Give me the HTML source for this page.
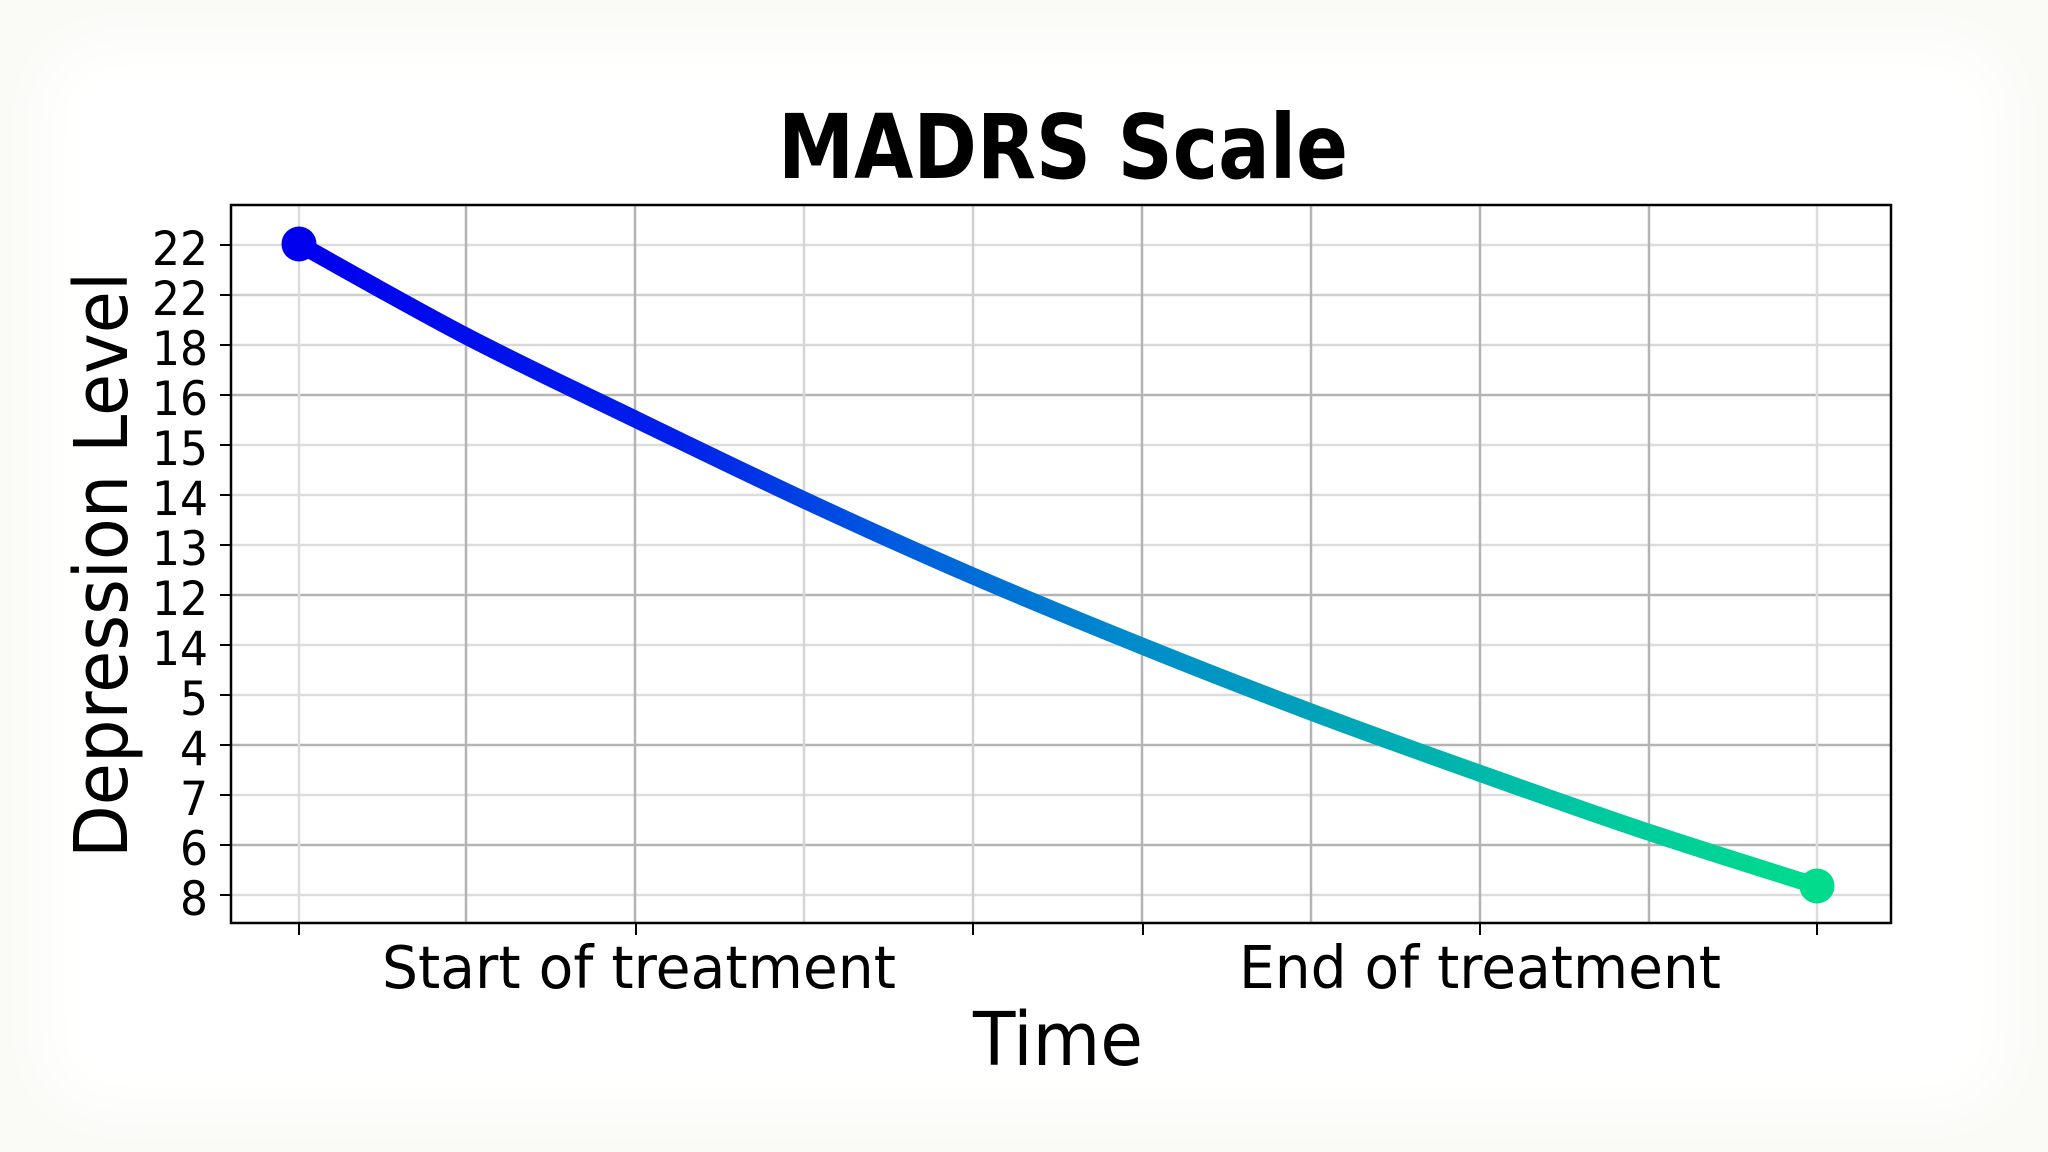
<!DOCTYPE html>
<html>
<head>
<meta charset="utf-8">
<style>
html,body{margin:0;padding:0;}
body{width:2048px;height:1152px;overflow:hidden;background:#fafbf6;position:relative;}
.inner{position:absolute;left:40px;top:40px;width:1968px;height:1072px;background:#ffffff;filter:blur(30px);border-radius:60px;}
svg{position:absolute;left:0;top:0;}
text{font-family:"DejaVu Sans","Liberation Sans",sans-serif;fill:#000;}
</style>
</head>
<body>
<div class="inner"></div>
<svg width="2048" height="1152" viewBox="0 0 2048 1152" xmlns="http://www.w3.org/2000/svg">
  <defs>
    <linearGradient id="g" gradientUnits="userSpaceOnUse" x1="299" y1="0" x2="1817" y2="0">
      <stop offset="0" stop-color="#0000ee"/>
      <stop offset="0.25" stop-color="#0020ea"/>
      <stop offset="0.4" stop-color="#005ede"/>
      <stop offset="0.55" stop-color="#008ccb"/>
      <stop offset="0.7" stop-color="#00a8b6"/>
      <stop offset="0.85" stop-color="#00c8a0"/>
      <stop offset="1" stop-color="#00dc8c"/>
    </linearGradient>
  </defs>

  <rect x="231" y="205" width="1660" height="718" fill="#ffffff"/>

  <!-- horizontal grid -->
  <g stroke-width="2.5">
    <line x1="231" x2="1891" y1="245" y2="245" stroke="#dcdcdc"/>
    <line x1="231" x2="1891" y1="295" y2="295" stroke="#cfcfcf"/>
    <line x1="231" x2="1891" y1="345" y2="345" stroke="#d8d8d8"/>
    <line x1="231" x2="1891" y1="395" y2="395" stroke="#b4b4b4"/>
    <line x1="231" x2="1891" y1="445" y2="445" stroke="#dcdcdc"/>
    <line x1="231" x2="1891" y1="495" y2="495" stroke="#dcdcdc"/>
    <line x1="231" x2="1891" y1="545" y2="545" stroke="#dcdcdc"/>
    <line x1="231" x2="1891" y1="595" y2="595" stroke="#b4b4b4"/>
    <line x1="231" x2="1891" y1="645" y2="645" stroke="#dcdcdc"/>
    <line x1="231" x2="1891" y1="695" y2="695" stroke="#dcdcdc"/>
    <line x1="231" x2="1891" y1="745" y2="745" stroke="#b4b4b4"/>
    <line x1="231" x2="1891" y1="795" y2="795" stroke="#dcdcdc"/>
    <line x1="231" x2="1891" y1="845" y2="845" stroke="#b4b4b4"/>
    <line x1="231" x2="1891" y1="895" y2="895" stroke="#dcdcdc"/>
  </g>
  <!-- vertical grid -->
  <g stroke-width="2.5">
    <line y1="205" y2="923" x1="299" x2="299" stroke="#dcdcdc"/>
    <line y1="205" y2="923" x1="466" x2="466" stroke="#b4b4b4"/>
    <line y1="205" y2="923" x1="635" x2="635" stroke="#b4b4b4"/>
    <line y1="205" y2="923" x1="804" x2="804" stroke="#d6d6d6"/>
    <line y1="205" y2="923" x1="973" x2="973" stroke="#d0d0d0"/>
    <line y1="205" y2="923" x1="1142" x2="1142" stroke="#b4b4b4"/>
    <line y1="205" y2="923" x1="1311" x2="1311" stroke="#b4b4b4"/>
    <line y1="205" y2="923" x1="1480" x2="1480" stroke="#b4b4b4"/>
    <line y1="205" y2="923" x1="1649" x2="1649" stroke="#b4b4b4"/>
    <line y1="205" y2="923" x1="1817" x2="1817" stroke="#dcdcdc"/>
  </g>

  <!-- series (smoothed) -->
  <path fill="none" stroke="url(#g)" stroke-width="17" stroke-linejoin="round" stroke-linecap="round"
    d="M299,244 C326.8,259.3 410,306.8 466,336
       C522,365.2 578.7,391.7 635,419
       C691.3,446.3 747.7,473.8 804,500
       C860.3,526.2 916.7,551.7 973,576
       C1029.3,600.3 1085.7,623.3 1142,646
       C1198.3,668.7 1254.8,690.8 1311,712
       C1367.2,733.2 1422.8,753 1479,773
       C1535.2,793 1591.7,813.2 1648,832
       C1704.3,850.8 1788.8,877 1817,886"/>
  <circle cx="299" cy="244" r="17.5" fill="#0000ee"/>
  <circle cx="1817" cy="886" r="17.5" fill="#00dc8c"/>

  <rect x="231" y="205" width="1660" height="718" fill="none" stroke="#000" stroke-width="2.5"/>

  <!-- y ticks -->
  <g stroke="#000" stroke-width="2">
    <line x1="220" x2="231" y1="245" y2="245"/>
    <line x1="220" x2="231" y1="295" y2="295"/>
    <line x1="220" x2="231" y1="345" y2="345"/>
    <line x1="220" x2="231" y1="395" y2="395"/>
    <line x1="220" x2="231" y1="445" y2="445"/>
    <line x1="220" x2="231" y1="495" y2="495"/>
    <line x1="220" x2="231" y1="545" y2="545"/>
    <line x1="220" x2="231" y1="595" y2="595"/>
    <line x1="220" x2="231" y1="645" y2="645"/>
    <line x1="220" x2="231" y1="695" y2="695"/>
    <line x1="220" x2="231" y1="745" y2="745"/>
    <line x1="220" x2="231" y1="795" y2="795"/>
    <line x1="220" x2="231" y1="845" y2="845"/>
    <line x1="220" x2="231" y1="895" y2="895"/>
  </g>
  <!-- x ticks -->
  <g stroke="#000" stroke-width="2">
    <line x1="299" x2="299" y1="923" y2="935"/>
    <line x1="636" x2="636" y1="923" y2="935"/>
    <line x1="973" x2="973" y1="923" y2="935"/>
    <line x1="1143" x2="1143" y1="923" y2="935"/>
    <line x1="1480" x2="1480" y1="923" y2="935"/>
    <line x1="1817" x2="1817" y1="923" y2="935"/>
  </g>

  <!-- y tick labels -->
  <g font-size="47" text-anchor="end">
    <text x="208" y="265" textLength="56" lengthAdjust="spacingAndGlyphs">22</text>
    <text x="208" y="315" textLength="56" lengthAdjust="spacingAndGlyphs">22</text>
    <text x="208" y="365" textLength="56" lengthAdjust="spacingAndGlyphs">18</text>
    <text x="208" y="415" textLength="56" lengthAdjust="spacingAndGlyphs">16</text>
    <text x="208" y="465" textLength="56" lengthAdjust="spacingAndGlyphs">15</text>
    <text x="208" y="515" textLength="56" lengthAdjust="spacingAndGlyphs">14</text>
    <text x="208" y="565" textLength="56" lengthAdjust="spacingAndGlyphs">13</text>
    <text x="208" y="615" textLength="56" lengthAdjust="spacingAndGlyphs">12</text>
    <text x="208" y="665" textLength="56" lengthAdjust="spacingAndGlyphs">14</text>
    <text x="208" y="715" textLength="28" lengthAdjust="spacingAndGlyphs">5</text>
    <text x="208" y="765" textLength="28" lengthAdjust="spacingAndGlyphs">4</text>
    <text x="208" y="815" textLength="28" lengthAdjust="spacingAndGlyphs">7</text>
    <text x="208" y="865" textLength="28" lengthAdjust="spacingAndGlyphs">6</text>
    <text x="208" y="915" textLength="28" lengthAdjust="spacingAndGlyphs">8</text>
  </g>

  <text x="382" y="988" font-size="59" textLength="514" lengthAdjust="spacingAndGlyphs">Start of treatment</text>
  <text x="1239" y="988" font-size="59" textLength="482" lengthAdjust="spacingAndGlyphs">End of treatment</text>

  <text x="973" y="1065" font-size="74" textLength="170" lengthAdjust="spacingAndGlyphs">Time</text>
  <text transform="translate(127,858) rotate(-90)" x="0" y="0" font-size="74" textLength="586" lengthAdjust="spacingAndGlyphs">Depression Level</text>

  <text x="778" y="178" font-size="89" font-weight="bold" textLength="570" lengthAdjust="spacingAndGlyphs">MADRS Scale</text>
</svg>
</body>
</html>
